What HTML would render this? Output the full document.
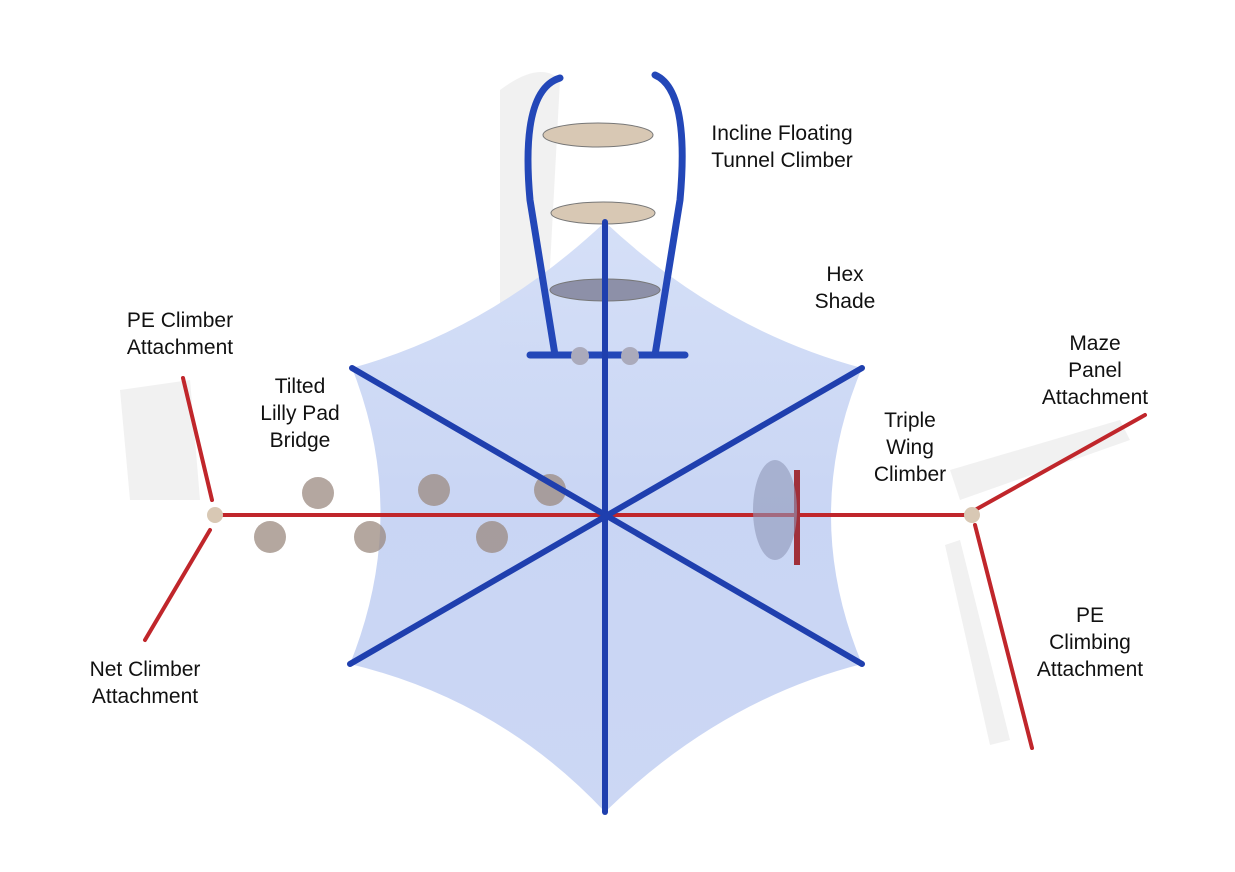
<!DOCTYPE html>
<html><head><meta charset="utf-8"><style>
html,body{margin:0;padding:0;background:#fff;}
svg{display:block}
text{font-family:"Liberation Sans",sans-serif;font-size:21px;fill:#111;text-anchor:middle}
</style></head><body>
<svg width="1235" height="872" viewBox="0 0 1235 872" xmlns="http://www.w3.org/2000/svg">
<defs>
<linearGradient id="sh" x1="0" y1="0" x2="0" y2="1">
<stop offset="0" stop-color="#d3def7"/><stop offset="0.5" stop-color="#c6d3f3"/><stop offset="1" stop-color="#c9d5f4"/>
</linearGradient>
</defs>
<!-- shadows -->
<g fill="#eeeeee" opacity="0.8">
<path d="M500 90 Q540 60 560 80 L545 360 L500 360Z"/>
<path d="M120 390 L190 380 L200 500 L130 500Z"/>
<path d="M950 470 L1120 420 L1130 440 L960 500Z"/>
<path d="M960 540 L1010 740 L990 745 L945 545Z"/>
</g>
<!-- hex shade -->
<path d="M605 222 Q720 330 862 368 Q800 515 862 664 Q720 700 605 812 Q500 700 350 664 Q410 515 352 368 Q490 330 605 222Z" fill="url(#sh)" opacity="0.95"/>
<!-- red beams -->
<g stroke="#c0262b" stroke-width="4" fill="none" stroke-linecap="round">
<line x1="215" y1="515" x2="975" y2="515"/>
<line x1="212" y1="500" x2="183" y2="378"/>
<line x1="210" y1="530" x2="145" y2="640"/>
<line x1="975" y1="510" x2="1145" y2="415"/>
<line x1="975" y1="525" x2="1032" y2="748"/>
</g>
<line x1="797" y1="470" x2="797" y2="565" stroke="#a0303a" stroke-width="6"/>
<ellipse cx="775" cy="510" rx="22" ry="50" fill="#8f97b8" opacity="0.6"/>
<!-- lilly pads -->
<g fill="#9b8a80" opacity="0.75">
<circle cx="318" cy="493" r="16"/><circle cx="270" cy="537" r="16"/>
<circle cx="370" cy="537" r="16"/><circle cx="434" cy="490" r="16"/>
<circle cx="492" cy="537" r="16"/><circle cx="550" cy="490" r="16"/>
</g>
<!-- tunnel climber -->
<g stroke="#2347b8" stroke-width="7" fill="none" stroke-linecap="round">
<path d="M560 78 Q520 90 530 200 L555 355"/>
<path d="M655 75 Q690 90 680 200 L655 355"/>
<path d="M530 355 L685 355"/>
</g>
<g fill="#d8c8b4" stroke="#777" stroke-width="1">
<ellipse cx="598" cy="135" rx="55" ry="12"/>
<ellipse cx="603" cy="213" rx="52" ry="11"/>
<ellipse cx="605" cy="290" rx="55" ry="11" fill="#8d90a8"/>
</g>
<circle cx="580" cy="356" r="9" fill="#aab"/><circle cx="630" cy="356" r="9" fill="#aab"/>
<!-- poles -->
<g stroke="#1f3fae" stroke-width="6" stroke-linecap="round">
<line x1="605" y1="222" x2="605" y2="812"/>
<line x1="352" y1="368" x2="862" y2="664"/>
<line x1="862" y1="368" x2="350" y2="664"/>
</g>
<circle cx="215" cy="515" r="8" fill="#d8c8b4"/><circle cx="972" cy="515" r="8" fill="#d8c8b4"/>
<!-- labels -->
<text x="782" y="140">Incline Floating</text><text x="782" y="167">Tunnel Climber</text>
<text x="845" y="281">Hex</text><text x="845" y="308">Shade</text>
<text x="180" y="327">PE Climber</text><text x="180" y="354">Attachment</text>
<text x="300" y="393">Tilted</text><text x="300" y="420">Lilly Pad</text><text x="300" y="447">Bridge</text>
<text x="910" y="427">Triple</text><text x="910" y="454">Wing</text><text x="910" y="481">Climber</text>
<text x="1095" y="350">Maze</text><text x="1095" y="377">Panel</text><text x="1095" y="404">Attachment</text>
<text x="1090" y="622">PE</text><text x="1090" y="649">Climbing</text><text x="1090" y="676">Attachment</text>
<text x="145" y="676">Net Climber</text><text x="145" y="703">Attachment</text>
</svg>
</body></html>
